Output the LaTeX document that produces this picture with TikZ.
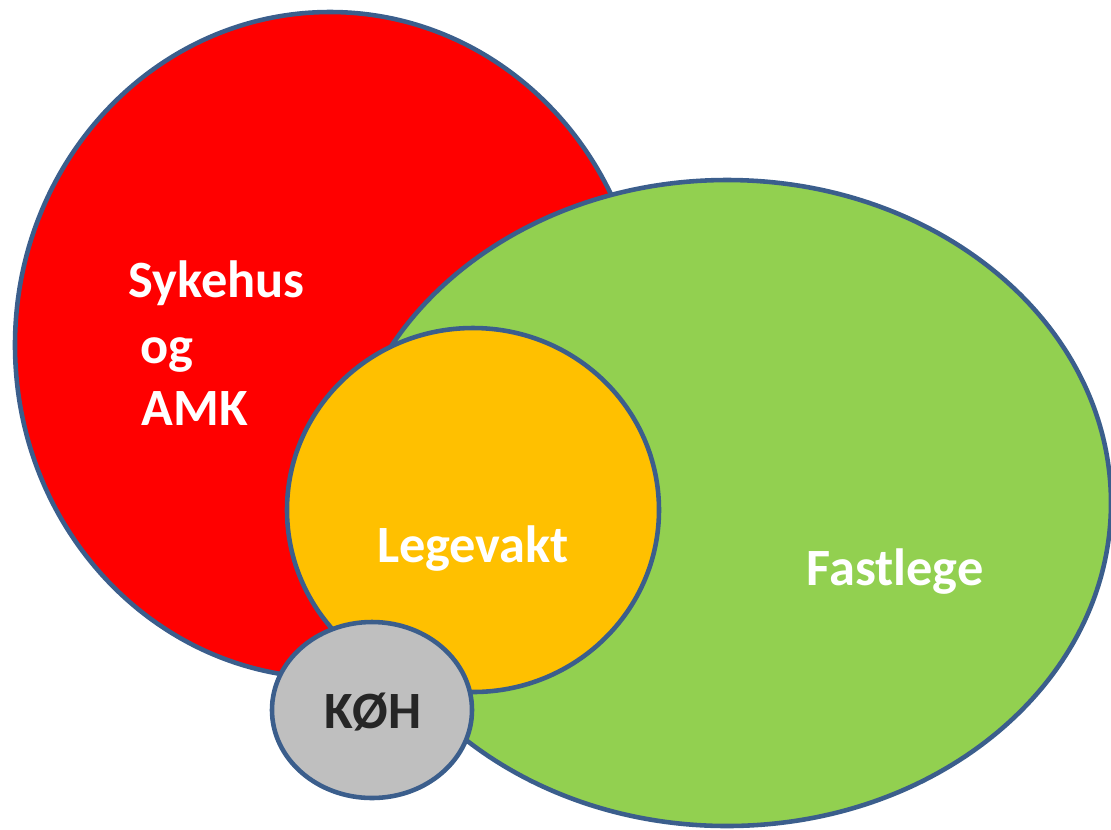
\documentclass[tikz,border=0pt]{standalone}
\usepackage{fontspec}
\setmainfont{Carlito}
\definecolor{redfill}{HTML}{FF0000}
\definecolor{greenfill}{HTML}{92D050}
\definecolor{orangefill}{HTML}{FFC000}
\definecolor{grayfill}{HTML}{BFBFBF}
\definecolor{edge}{HTML}{3B5E8C}
\definecolor{darktext}{HTML}{262626}
\begin{document}
\begin{tikzpicture}[x=0.01cm,y=-0.01cm,
  blob/.style={draw=edge,line width=1.3pt},
  lbl/.style={font=\fontsize{14.9}{18}\selectfont\bfseries,text=white,inner sep=0pt},
  dlbl/.style={lbl,text=darktext}]
\useasboundingbox (0,0) rectangle (1111,829);
\draw[blob,fill=redfill] (330,345) ellipse [x radius=315,y radius=333];
\draw[blob,fill=greenfill] (727,503) ellipse [x radius=384,y radius=323];
\draw[blob,fill=orangefill] (473,510) ellipse [x radius=186,y radius=182];
\draw[blob,fill=grayfill] (372,710) ellipse [x radius=100,y radius=88];
\node[lbl,anchor=base west] (syk) at (128,297) {Sykehus};
\node[lbl,anchor=base west] (og) at (140,363) {og};
\node[lbl,anchor=base west] (amk) at (141,425) {AMK};
\node[lbl,anchor=base] (lege) at (473,562) {Legevakt};
\node[lbl,anchor=base] (fast) at (895,585) {Fastlege};
\node[dlbl,anchor=base] (koh) at (373,728) {KØH};
\end{tikzpicture}
\end{document}
